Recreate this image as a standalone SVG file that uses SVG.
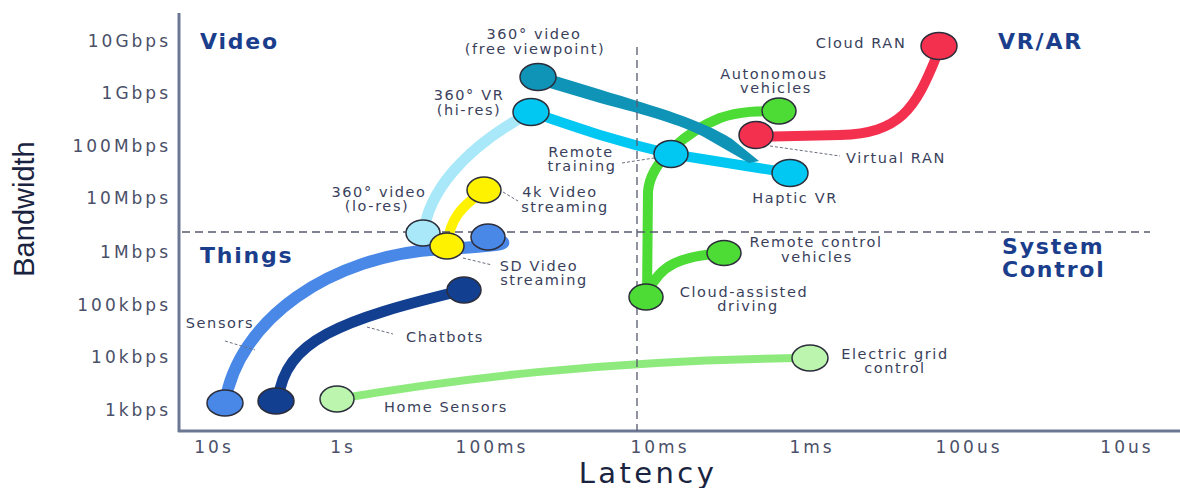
<svg xmlns="http://www.w3.org/2000/svg" width="1180" height="488" viewBox="0 0 1180 488">
  <style>
    .tick { font-family: "DejaVu Sans", "Noto Sans", sans-serif; font-size: 17px; letter-spacing: 3px; fill: #4a5068; }
    .quad { font-family: "DejaVu Sans", "Noto Sans", sans-serif; font-size: 22px; font-weight: bold; letter-spacing: 1.8px; fill: #1b3e8c; }
    .lbl { font-family: "DejaVu Sans", "Noto Sans", sans-serif; font-size: 14.5px; letter-spacing: 1.6px; fill: #3a3f5c; text-anchor: middle; }
    .title { fill: #1a2440; }
    .grid { stroke: #555b6e; stroke-width: 1.3; stroke-dasharray: 8 5; fill: none; }
    .lead { stroke: #6a6f80; stroke-width: 1; stroke-dasharray: 3 2; fill: none; }
    .axis { stroke: #6c7893; stroke-width: 3; fill: none; }
    .link { fill: none; stroke-linecap: round; stroke-linejoin: round; }
    .node { stroke: #2b2d3a; stroke-width: 1.5; }
  </style>

  <!-- axes -->
  <g id="axes">
    <line class="axis" x1="179" y1="13" x2="179" y2="432"/>
    <line class="axis" x1="178" y1="431" x2="1180" y2="431"/>
  </g>

  <!-- axis tick labels -->
  <g id="y-ticks" text-anchor="end">
    <text class="tick" x="171" y="47">10Gbps</text>
    <text class="tick" x="171" y="99">1Gbps</text>
    <text class="tick" x="171" y="152">100Mbps</text>
    <text class="tick" x="171" y="204">10Mbps</text>
    <text class="tick" x="171" y="258">1Mbps</text>
    <text class="tick" x="171" y="311">100kbps</text>
    <text class="tick" x="171" y="363">10kbps</text>
    <text class="tick" x="171" y="416">1kbps</text>
  </g>
  <g id="x-ticks" text-anchor="middle">
    <text class="tick" x="214" y="453">10s</text>
    <text class="tick" x="343" y="453">1s</text>
    <text class="tick" x="492" y="453">100ms</text>
    <text class="tick" x="660" y="453">10ms</text>
    <text class="tick" x="812" y="453">1ms</text>
    <text class="tick" x="969" y="453">100us</text>
    <text class="tick" x="1127" y="453">10us</text>
  </g>

  <!-- axis titles -->
  <text class="title" x="648" y="483" text-anchor="middle" font-family="'DejaVu Sans', sans-serif" font-size="29" letter-spacing="3.4">Latency</text>
  <text class="title" transform="translate(34 209) rotate(-90)" text-anchor="middle" font-family="'Liberation Sans', Arial, sans-serif" font-size="29">Bandwidth</text>

  <!-- quadrant names -->
  <g id="quadrants">
    <text class="quad" x="200" y="49">Video</text>
    <text class="quad" x="200" y="263">Things</text>
    <text class="quad" x="998" y="49">VR/AR</text>
    <text class="quad" x="1002" y="254" font-size="21.5"><tspan x="1002">System</tspan><tspan x="1002" dy="23">Control</tspan></text>
  </g>

  <!-- connectors -->
  <g id="connectors">
    <path class="link" stroke="#8fea7e" stroke-width="8" d="M337,399 C450,380 600,360 810,358"/>
    <path class="link" stroke="#4a88e8" stroke-width="12" d="M225,403 C238,320 330,255 442,249 S476,240 488,237"/>
    <path class="link" stroke="#133f91" stroke-width="11" d="M278,400 C285,340 340,320 464,290"/>
    <path class="link" stroke="#4ddb36" stroke-width="10" d="M647,297 L648,192 C650,160 690,130 720,118 C740,111 760,111 779,111"/>
    <path class="link" stroke="#4ddb36" stroke-width="10" d="M648,292 C660,265 680,256 724,253"/>
    <path class="link" stroke="#f4304f" stroke-width="10" d="M756,137 L840,135 C900,133 915,110 937,55"/>
    <path class="link" stroke="#a8e8f8" stroke-width="11" d="M424,232 C428,195 460,150 531,112"/>
    <path class="link" stroke="#fff200" stroke-width="10" d="M447,246 C450,215 465,205 484,190"/>
    <path class="link" stroke="#00c8f2" stroke-width="10" d="M531,112 C570,125 610,140 671,154 L790,173"/>
    <path fill="#0f93b6" d="M536,70 L600,89.5 C660,108 700,119 732,139 L759,161 L749,163 L702,136 C680,125 650,116 600,103 L536,84 Z"/>
  </g>

  <!-- quadrant dividers -->
  <g id="dividers">
    <line class="grid" x1="182" y1="232" x2="1150" y2="232"/>
    <line class="grid" x1="637" y1="47" x2="637" y2="431"/>
  </g>

  <!-- label leader lines -->
  <g id="leaders">
    <line class="lead" x1="622" y1="163" x2="654" y2="158"/>
    <line class="lead" x1="503" y1="192" x2="518" y2="201"/>
    <line class="lead" x1="463" y1="258" x2="492" y2="265"/>
    <line class="lead" x1="770" y1="146" x2="840" y2="156"/>
    <line class="lead" x1="225" y1="341" x2="255" y2="350"/>
    <line class="lead" x1="367" y1="327" x2="393" y2="334"/>
  </g>

  <!-- nodes -->
  <g id="node-free-viewpoint">
    <ellipse class="node" cx="538" cy="77" rx="18" ry="13.5" fill="#0f93b6"/>
    <text class="lbl" y="39"><tspan x="534">360° video</tspan><tspan x="535" dy="15">(free viewpoint)</tspan></text>
  </g>
  <g id="node-vr-hires">
    <ellipse class="node" cx="531" cy="112" rx="18" ry="13.5" fill="#00c8f2"/>
    <text class="lbl" y="100"><tspan x="469">360° VR</tspan><tspan x="469" dy="15">(hi-res)</tspan></text>
  </g>
  <g id="node-remote-training">
    <ellipse class="node" cx="671" cy="154" rx="17" ry="13.5" fill="#00c8f2"/>
    <text class="lbl" y="157"><tspan x="581">Remote</tspan><tspan x="582" dy="14">training</tspan></text>
  </g>
  <g id="node-haptic-vr">
    <ellipse class="node" cx="790" cy="173" rx="18" ry="13.5" fill="#00c8f2"/>
    <text class="lbl" x="795" y="203">Haptic VR</text>
  </g>
  <g id="node-autonomous">
    <ellipse class="node" cx="779" cy="111" rx="17" ry="13" fill="#4ddb36"/>
    <text class="lbl" y="79"><tspan x="774">Autonomous</tspan><tspan x="776" dy="14">vehicles</tspan></text>
  </g>
  <g id="node-virtual-ran">
    <ellipse class="node" cx="756" cy="135" rx="17" ry="13.5" fill="#f4304f"/>
    <text class="lbl" x="896" y="163">Virtual RAN</text>
  </g>
  <g id="node-cloud-ran">
    <ellipse class="node" cx="939" cy="46" rx="18" ry="13.5" fill="#f4304f"/>
    <text class="lbl" x="861" y="48">Cloud RAN</text>
  </g>
  <g id="node-remote-control">
    <ellipse class="node" cx="724" cy="253" rx="17" ry="12.5" fill="#4ddb36"/>
    <text class="lbl" y="247"><tspan x="816">Remote control</tspan><tspan x="817" dy="15">vehicles</tspan></text>
  </g>
  <g id="node-cloud-driving">
    <ellipse class="node" cx="646" cy="297" rx="17" ry="13" fill="#4ddb36"/>
    <text class="lbl" y="297"><tspan x="744">Cloud-assisted</tspan><tspan x="748" dy="14">driving</tspan></text>
  </g>
  <g id="node-4k-video">
    <ellipse class="node" cx="484" cy="190" rx="17" ry="13" fill="#fff200"/>
    <text class="lbl" y="197"><tspan x="560">4k Video</tspan><tspan x="565" dy="15">streaming</tspan></text>
  </g>
  <g id="node-video-lores">
    <ellipse class="node" cx="423" cy="233" rx="17" ry="13" fill="#a8e8f8"/>
    <text class="lbl" y="197"><tspan x="379">360° video</tspan><tspan x="377" dy="14">(lo-res)</tspan></text>
  </g>
  <g id="node-sensors-top">
    <ellipse class="node" cx="488" cy="237" rx="17" ry="13" fill="#4a88e8"/>
  </g>
  <g id="node-sd-video">
    <ellipse class="node" cx="447" cy="246" rx="17" ry="13" fill="#fff200"/>
    <text class="lbl" y="271"><tspan x="539">SD Video</tspan><tspan x="544" dy="14">streaming</tspan></text>
  </g>
  <g id="node-chatbots-top">
    <ellipse class="node" cx="464" cy="290" rx="17" ry="13" fill="#133f91"/>
  </g>
  <g id="node-sensors">
    <ellipse class="node" cx="225" cy="403" rx="18" ry="13" fill="#4a88e8"/>
    <text class="lbl" x="220" y="328">Sensors</text>
  </g>
  <g id="node-chatbots">
    <ellipse class="node" cx="276" cy="401" rx="18" ry="13" fill="#133f91"/>
    <text class="lbl" x="445" y="342">Chatbots</text>
  </g>
  <g id="node-home-sensors">
    <ellipse class="node" cx="337" cy="399" rx="17" ry="13" fill="#bcf5ae"/>
    <text class="lbl" x="446" y="412">Home Sensors</text>
  </g>
  <g id="node-electric-grid">
    <ellipse class="node" cx="810" cy="358" rx="18" ry="13" fill="#bcf5ae"/>
    <text class="lbl" y="359"><tspan x="895">Electric grid</tspan><tspan x="895" dy="14">control</tspan></text>
  </g>
</svg>
